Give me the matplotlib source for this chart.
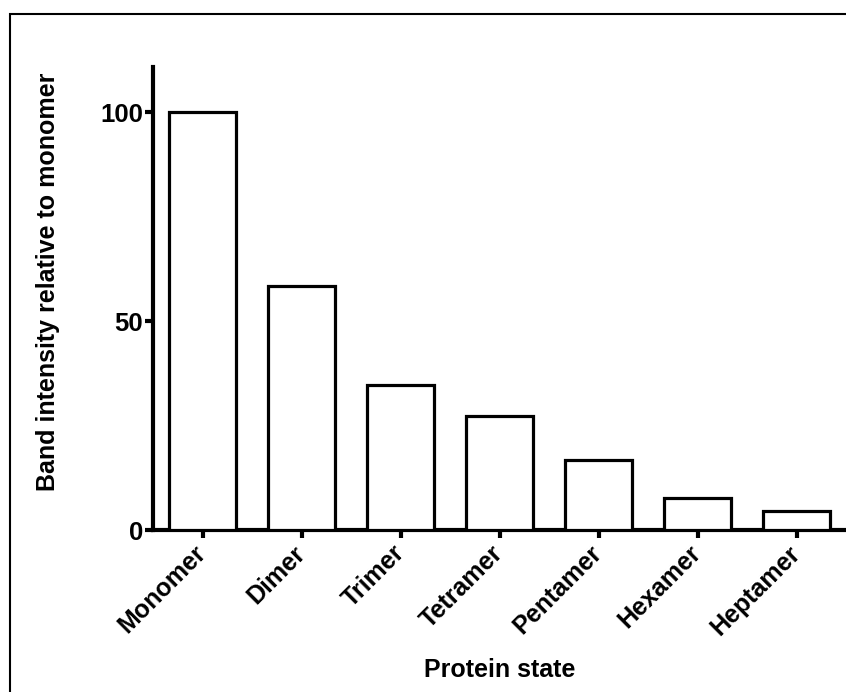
import matplotlib
matplotlib.use('Agg')
import matplotlib.pyplot as plt
from matplotlib.patches import Rectangle

# ------------------- 数据 -------------------
states = ['Monomer', 'Dimer', 'Trimer', 'Tetramer', 'Pentamer', 'Hexamer', 'Heptamer']
intensity = [100, 58.4, 34.7, 27.3, 16.7, 7.7, 4.5]
y_ticks = [0, 50, 100]

plt.rcParams['font.family'] = ['Liberation Sans', 'DejaVu Sans']
plt.rcParams['font.weight'] = 'bold'

fig = plt.figure(figsize=(8.46, 6.92), dpi=100)
ax = fig.add_axes([153 / 846, 1 - 530 / 692, 1 - 153 / 846, (530 - 67) / 692])

x = range(len(states))
ax.bar(x, intensity, width=0.68, color='white', edgecolor='black', linewidth=2.3, zorder=3)

ax.set_xlim(-0.5, 6.5)
ax.set_ylim(0, 110.8)
ax.set_xticks(list(x))
ax.set_xticklabels(states, rotation=45, ha='right', va='center', rotation_mode='anchor',
                   fontsize=18, fontweight='bold')
ax.set_yticks(y_ticks)
ax.set_yticklabels([str(v) for v in y_ticks], fontsize=18.5, fontweight='bold')

for s in ['top', 'right']:
    ax.spines[s].set_visible(False)
for s in ['left', 'bottom']:
    ax.spines[s].set_linewidth(3)
ax.tick_params(axis='both', width=3, length=6, pad=1)
ax.tick_params(axis='x', pad=8)

ax.set_xlabel('Protein state', fontsize=18, fontweight='bold', labelpad=13)
ax.set_ylabel('Band intensity relative to monomer', fontsize=18, fontweight='bold', labelpad=29)
ax.yaxis.label.set_y(0.537)

# 外框
fig.patches.append(Rectangle((10 / 846, -0.1), 1.2, 1.1 - 14 / 692, transform=fig.transFigure,
                             fill=False, edgecolor='black', linewidth=1.5))

fig.savefig('out.png', dpi=100)
